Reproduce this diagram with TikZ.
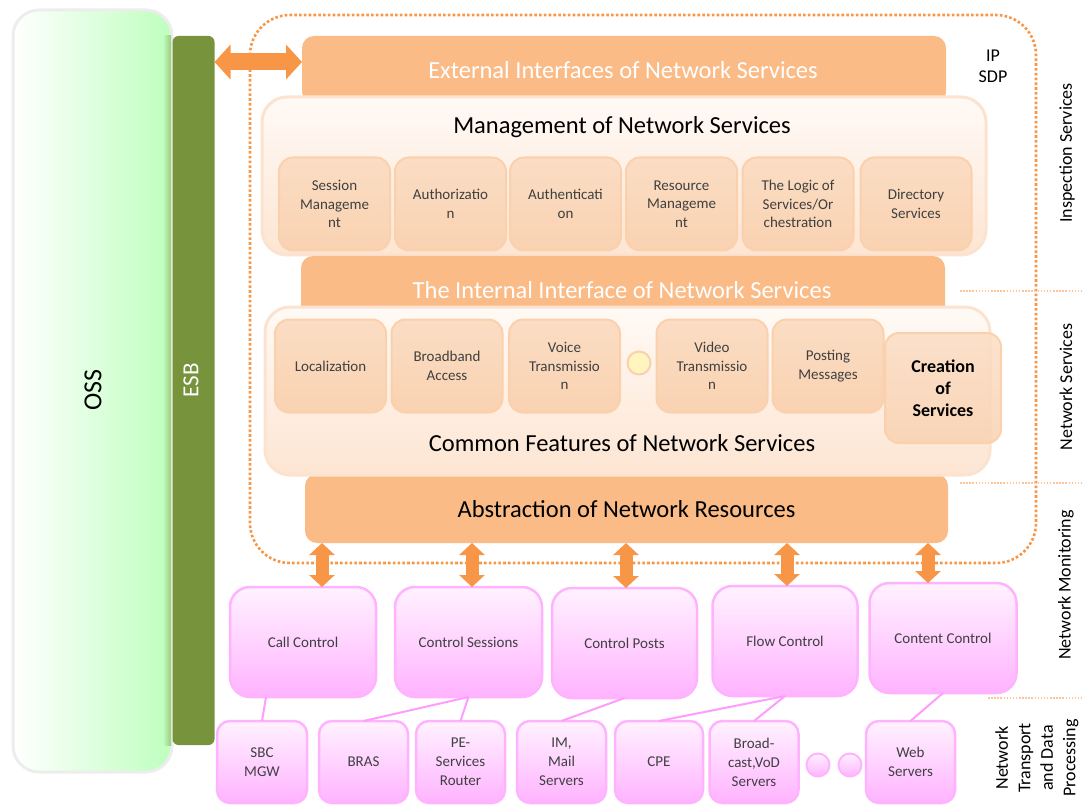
\documentclass[tikz,border=0pt]{standalone}
\usepackage{fontspec}
\setmainfont{Carlito}
\usetikzlibrary{arrows.meta,calc}
\definecolor{orng}{HTML}{F79646}
\definecolor{boxor}{HTML}{FABB87}
\definecolor{esbg}{HTML}{77933C}
\definecolor{pinkb}{HTML}{FFB3FF}
\definecolor{pinkt}{HTML}{FFF2FF}
\definecolor{pinkl}{HTML}{FF9CFF}
\definecolor{peach}{HTML}{FDE5D2}
\definecolor{peachtop}{HTML}{FFFAF6}
\definecolor{peachd}{HTML}{FCE3CF}
\definecolor{subtop}{HTML}{FBDDC4}
\definecolor{subbot}{HTML}{F9D2B1}
\definecolor{subd}{HTML}{FBD0AC}
\definecolor{txt}{HTML}{404040}
\definecolor{sepc}{HTML}{FBC49A}
\definecolor{ossg}{HTML}{BEFFBE}
\begin{document}
\begin{tikzpicture}[x=1pt,y=-1pt,
  every node/.style={inner sep=0pt, outer sep=0pt},
  bigbox/.style={rounded corners=25pt, top color=peachtop, bottom color=peach, draw=peachd, line width=3pt},
  orbox/.style={rounded corners=12pt, fill=boxor},
  subbox/.style={rounded corners=14pt, top color=subtop, bottom color=subbot, draw=subd, line width=2pt,
     text=txt, align=center, font=\fontsize{15}{18.5}\selectfont, minimum width=111pt, minimum height=93pt},
  ctlbox/.style={rounded corners=20pt, top color=pinkt, bottom color=pinkb, draw=pinkb, line width=2.5pt,
     text=txt, align=center, font=\fontsize{15}{19}\selectfont, minimum width=146pt, minimum height=110pt},
  devbox/.style={rounded corners=13pt, top color=pinkt, bottom color=pinkb, draw=pinkb, line width=2.5pt,
     text=txt, align=center, font=\fontsize{15}{19}\selectfont, minimum width=89pt, minimum height=82pt},
  pinkline/.style={draw=pinkl, line width=2pt},
  varrow/.style={draw=orng, line width=13pt, {Triangle[length=12pt,width=25pt]}-{Triangle[length=12pt,width=25pt]}},
  harrow/.style={draw=orng, line width=17pt, {Triangle[length=16pt,width=34pt]}-{Triangle[length=16pt,width=34pt]}},
  frame/.style={draw=orng, line width=2.6pt, dash pattern=on 2.6pt off 2.2pt, rounded corners=40pt},
  sep/.style={draw=sepc, line width=1.3pt, dash pattern=on 1.5pt off 1.6pt},
  sidelbl/.style={rotate=90, font=\fontsize{18}{22.5}\selectfont, align=center},
  bigtxt/.style={font=\fontsize{24.5}{28}\selectfont}
]
\useasboundingbox (0,0) rectangle (1082,805);

% OSS and ESB
\node[rounded corners=26pt, left color=white, right color=ossg, draw=black!7, line width=3pt,
      minimum width=159pt, minimum height=762pt] (oss) at (92.5,391) {};
\node[rotate=90, font=\fontsize{26}{30}\selectfont] (osst) at (93,390) {OSS};
\shade[left color=ossg, right color=esbg!50!ossg] (163,36) rectangle (171,745);
\node[fill=esbg, rounded corners=6pt, minimum width=42pt, minimum height=709pt] (esb) at (193.5,390.5) {};
\node[rotate=90, text=white, font=\fontsize{23}{27}\selectfont] (esbt) at (191,380) {ESB};

% upper orange boxes
\node[orbox, minimum width=644pt, minimum height=68pt] (ext) at (624,70) {};
\node[text=white, bigtxt] (extt) at (623,70) {External Interfaces of Network Services};
\coordinate (a0) at (0,62);
\draw[harrow] (esb.east |- a0) -- (ext.west |- a0);

% Management
\node[bigbox, minimum width=724pt, minimum height=158pt] (mgmt) at (624,176) {};
\node[bigtxt] (mgmtt) at (622,127) {Management of Network Services};
\node[subbox] (s1) at (334.5,204) {Session\\Manageme\\nt};
\node[subbox] (s2) at (450.5,204) {Authorizatio\\n};
\node[subbox] (s3) at (565.5,204) {Authenticati\\on};
\node[subbox] (s4) at (681.5,204) {Resource\\Manageme\\nt};
\node[subbox] (s5) at (798,204) {The Logic of\\Services/Or\\chestration};
\node[subbox] (s6) at (916,204) {Directory\\Services};

% Internal interface
\node[orbox, minimum width=644pt, minimum height=68pt] (int) at (623,290) {};
\node[text=white, bigtxt] (intt) at (622,290) {The Internal Interface of Network Services};

% Abstraction
\node[orbox, minimum width=643pt, minimum height=69pt] (abs) at (626.5,508.5) {};
\node[bigtxt] (abst) at (626.5,509) {Abstraction of Network Resources};

% Common features
\node[bigbox, minimum width=725pt, minimum height=168pt] (com) at (627.5,391) {};
\node[bigtxt] (comt) at (622,443) {Common Features of Network Services};
\node[subbox] (c1) at (330.5,366) {Localization};
\node[subbox] (c2) at (447,366) {Broadband\\Access};
\node[subbox] (c3) at (564.5,366) {Voice\\Transmissio\\n};
\node[circle, minimum size=23pt, fill=orange!30!yellow!25, draw=subd, line width=2pt] (dot) at (639,363) {};
\node[subbox] (c4) at (712,366) {Video\\Transmissio\\n};
\node[subbox] (c5) at (828,366) {Posting\\Messages};
\node[subbox, fill opacity=0.85, text opacity=1, text=black, font=\bfseries\fontsize{18}{22}\selectfont,
      minimum width=116pt, minimum height=110pt] (c6) at (943,388) {Creation\\of\\Services};

% control boxes
\node[ctlbox] (cc) at (303,642) {Call Control};
\node[ctlbox, minimum width=147pt] (cs) at (468.5,642) {Control Sessions};
\node[ctlbox, minimum width=145pt] (cp) at (624.5,643) {Control Posts};
\node[ctlbox, minimum width=145pt] (fc) at (785,641) {Flow Control};
\node[ctlbox, minimum width=147pt] (ct) at (943,638) {Content Control};

% vertical arrows
\coordinate (v1) at (322,0);
\coordinate (v2) at (472,0);
\coordinate (v3) at (626,0);
\coordinate (v4) at (787,0);
\coordinate (v5) at (928,0);
\draw[varrow] (abs.south -| v1) -- (cc.north -| v1);
\draw[varrow] (abs.south -| v2) -- (cs.north -| v2);
\draw[varrow] (abs.south -| v3) -- (cp.north -| v3);
\draw[varrow] (abs.south -| v4) -- (fc.north -| v4);
\draw[varrow] (abs.south -| v5) -- (ct.north -| v5);

% dotted frame and separators
\draw[frame] (250,15) rectangle (1036,563);
\draw[sep] (960,291) -- (1082,291);
\draw[sep] (960,483) -- (1082,483);
\draw[sep] (988,698) -- (1082,698);

% devices
\node[devbox, minimum width=90pt] (sbc) at (262,762) {SBC\\MGW};
\node[devbox] (bras) at (363.5,762) {BRAS};
\node[devbox] (pe) at (460.5,762) {PE-\\Services\\Router};
\node[devbox] (im) at (561.5,762) {IM,\\Mail\\Servers};
\node[devbox, minimum width=88pt] (cpe) at (659,762) {CPE};
\node[devbox] (bc) at (754,762) {Broad-\\cast,VoD\\Servers};
\node[circle, minimum size=23pt, top color=pinkt, bottom color=pinkb, draw=pinkb, line width=2pt] (p1) at (818,765) {};
\node[circle, minimum size=23pt, top color=pinkt, bottom color=pinkb, draw=pinkb, line width=2pt] (p2) at (850,765) {};
\node[devbox] (web) at (910.5,762) {Web\\Servers};

% links
\draw[pinkline] ($(cc.south)+(-37,0)$) -- (sbc.north);
\draw[pinkline] (cs.south) -- (bras.north);
\draw[pinkline] (cs.south) -- (pe.north);
\draw[pinkline] (cp.south) -- (im.north);
\draw[pinkline] (fc.south) -- (cpe.north);
\draw[pinkline] (fc.south) -- (bc.north);
\draw[pinkline] (ct.south) -- (web.north);

% side labels
\node[font=\fontsize{18}{21}\selectfont, align=center] (ipsdp) at (993,66) {IP\\SDP};
\node[sidelbl] (l1) at (1067,153) {Inspection Services};
\node[sidelbl] (l2) at (1066,387) {Network Services};
\node[sidelbl] (l3) at (1066,585) {Network Monitoring};
\node[sidelbl] (l4) at (1037,758) {Network\\Transport\\and Data\\Processing};
\end{tikzpicture}
\end{document}
